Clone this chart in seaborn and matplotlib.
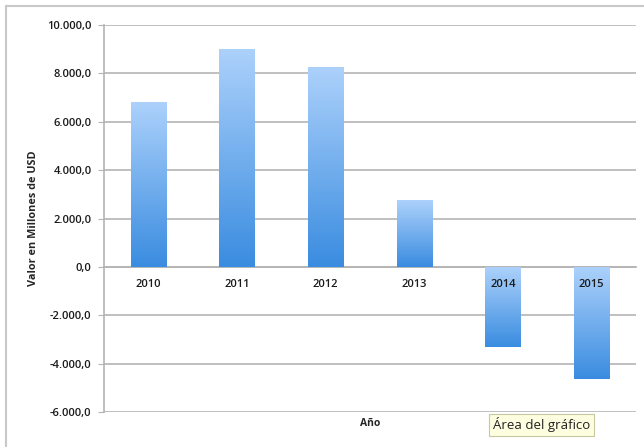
import numpy as np
import matplotlib
matplotlib.use("Agg")
import matplotlib.pyplot as plt
import seaborn as sns
from matplotlib.colors import LinearSegmentedColormap
from matplotlib.ticker import FuncFormatter, MultipleLocator
from matplotlib.lines import Line2D

years = ["2010", "2011", "2012", "2013", "2014", "2015"]
values = [6800, 9000, 8250, 2770, -3300, -4630]

sns.set_style("white")
plt.rcParams["font.family"] = ["Open Sans", "DejaVu Sans"]

fig = plt.figure(figsize=(6.44, 4.47), dpi=100)
ax = fig.add_axes([104 / 644, 1 - 412 / 447, 532 / 644, 387 / 447])

sns.barplot(x=years, y=values, width=0.4, color="#5aa0e8", ax=ax, zorder=3)

# vertical gradient fill, light at top, darker at bottom
grad = LinearSegmentedColormap.from_list("bar", ["#3a8ce0", "#acd1fb"])
col = np.linspace(1, 0, 256).reshape(-1, 1)
for p in ax.patches:
    bb = p.get_bbox()
    lo, hi = min(bb.y0, bb.y1), max(bb.y0, bb.y1)
    im = ax.imshow(col, cmap=grad, aspect="auto", origin="upper",
                   extent=[bb.x0, bb.x1, lo, hi], zorder=3)
    im.set_clip_path(p)
    p.set_facecolor("none")
    p.set_edgecolor("none")

ax.set_xlim(-0.5, len(years) - 0.5)
ax.set_ylim(-6000, 10000)
ax.yaxis.set_major_locator(MultipleLocator(2000))
ax.yaxis.set_major_formatter(FuncFormatter(
    lambda v, _: f"{v:,.1f}".replace(",", "X").replace(".", ",").replace("X", ".")))
ax.grid(axis="y", color="#b4b4b4", linewidth=1.2, zorder=0)
ax.grid(axis="x", visible=False)

for s in ["top", "right"]:
    ax.spines[s].set_visible(False)
ax.spines["left"].set_color("#b4b4b4")
ax.spines["left"].set_linewidth(1.2)
ax.spines["bottom"].set_position(("data", 0))
ax.spines["bottom"].set_color("#b4b4b4")
ax.spines["bottom"].set_linewidth(1.2)
ax.xaxis.set_zorder(5)

ax.tick_params(axis="y", length=4, color="#b4b4b4", labelsize=8, pad=5, left=True)
ax.tick_params(axis="x", length=0, labelsize=8, pad=9)
for t in ax.get_xticklabels() + ax.get_yticklabels():
    t.set_fontweight("semibold")
    t.set_color("#1a1a1a")

ax.set_ylabel("Valor en Millones de USD", fontsize=7.8, fontweight="bold", labelpad=6)
ax.set_xlabel("Año", fontsize=7.5, fontweight="bold")
ax.xaxis.set_label_coords(0.5, -0.015)
ax.xaxis.label.set_verticalalignment("top")

# outer chart frame
fig.add_artist(Line2D([6 / 644, 6 / 644], [0, 1 - 6 / 447], color="#c8c8c8", lw=1.5))
fig.add_artist(Line2D([6 / 644, 1], [1 - 6 / 447, 1 - 6 / 447], color="#c8c8c8", lw=1.5))

fig.text(493 / 644, 1 - 425 / 447, "Área del gráfico", fontsize=9.5, va="center",
         color="#222222",
         bbox=dict(boxstyle="square,pad=0.3", fc="#fdfde0", ec="#c8c8a0", lw=0.8))

fig.savefig("out.png", dpi=100)
